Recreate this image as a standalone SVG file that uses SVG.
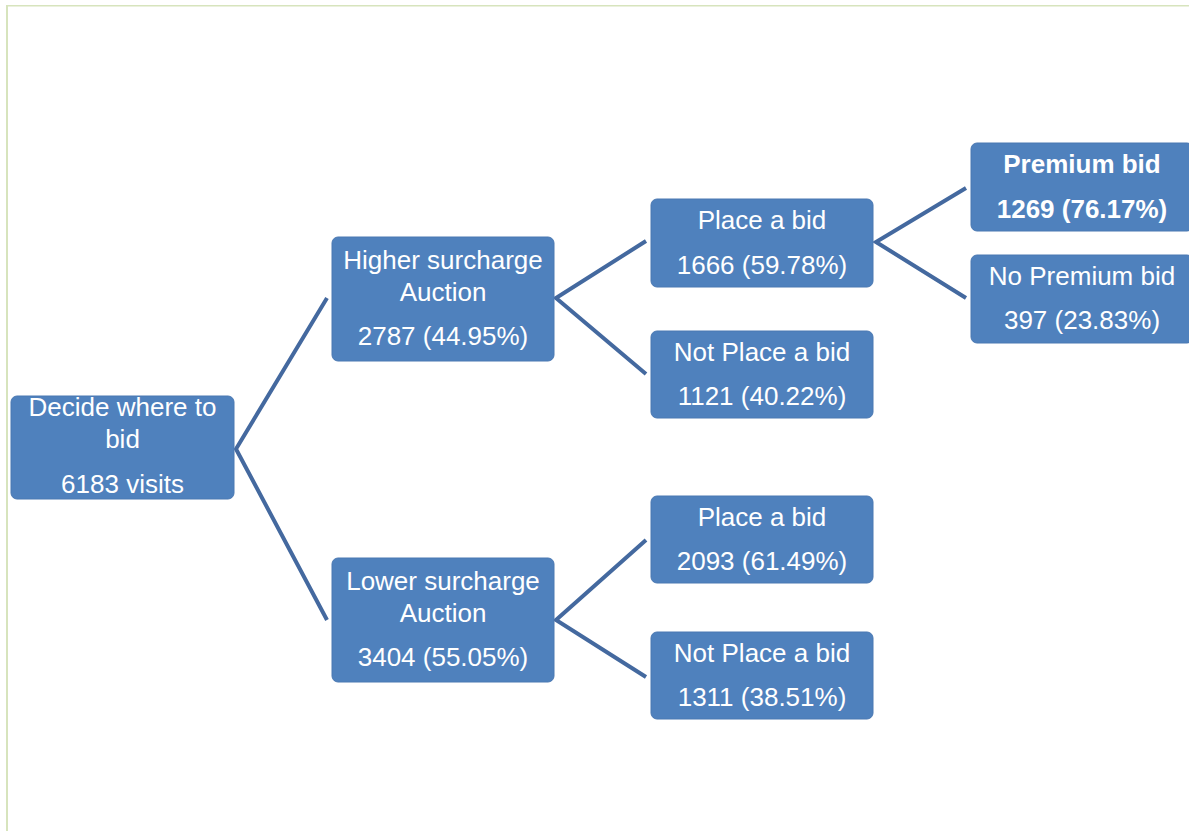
<svg xmlns="http://www.w3.org/2000/svg" width="1189" height="831" viewBox="0 0 1189 831">
<style>
.box{fill:#4f81bd;stroke:#4a78b2;stroke-width:1}
.t{font-family:"Liberation Sans",Arial,sans-serif;font-size:26px;fill:#ffffff;text-anchor:middle}
.b{font-weight:bold}
.c{stroke:#44699f;stroke-width:4;fill:none;stroke-linejoin:miter}
</style>
<rect width="1189" height="831" fill="#ffffff"/>
<rect x="6" y="5" width="1183" height="1.5" fill="#d7e4bd"/>
<rect x="6" y="5" width="2" height="826" fill="#d7e4bd"/>
<g id="connectors">
<polyline class="c" points="327,298 236,449 327,620"/>
<polyline class="c" points="646,241 556,298 646,374"/>
<polyline class="c" points="646,540 556,620 646,677"/>
<polyline class="c" points="966,188 876,242 966,298"/>
</g>
<g id="root">
<rect class="box" x="11" y="396" width="223" height="103" rx="6"/>
<text class="t" x="122.5" y="416">Decide where to</text>
<text class="t" x="122.5" y="448">bid</text>
<text class="t" x="122.5" y="493">6183 visits</text>
</g>
<g id="higher">
<rect class="box" x="332" y="237" width="222" height="124" rx="6"/>
<text class="t" x="443" y="269">Higher surcharge</text>
<text class="t" x="443" y="301">Auction</text>
<text class="t" x="443" y="345">2787 (44.95%)</text>
</g>
<g id="lower">
<rect class="box" x="332" y="558" width="222" height="124" rx="6"/>
<text class="t" x="443" y="590">Lower surcharge</text>
<text class="t" x="443" y="622">Auction</text>
<text class="t" x="443" y="666">3404 (55.05%)</text>
</g>
<g id="place1">
<rect class="box" x="651" y="199" width="222" height="88" rx="6"/>
<text class="t" x="762" y="229">Place a bid</text>
<text class="t" x="762" y="274">1666 (59.78%)</text>
</g>
<g id="notplace1">
<rect class="box" x="651" y="331" width="222" height="87" rx="6"/>
<text class="t" x="762" y="361">Not Place a bid</text>
<text class="t" x="762" y="405">1121 (40.22%)</text>
</g>
<g id="place2">
<rect class="box" x="651" y="496" width="222" height="87" rx="6"/>
<text class="t" x="762" y="526">Place a bid</text>
<text class="t" x="762" y="570">2093 (61.49%)</text>
</g>
<g id="notplace2">
<rect class="box" x="651" y="632" width="222" height="87" rx="6"/>
<text class="t" x="762" y="662">Not Place a bid</text>
<text class="t" x="762" y="706">1311 (38.51%)</text>
</g>
<g id="premium">
<rect class="box" x="971" y="143" width="222" height="88" rx="6"/>
<text class="t b" x="1082" y="173">Premium bid</text>
<text class="t b" x="1082" y="218">1269 (76.17%)</text>
</g>
<g id="nopremium">
<rect class="box" x="971" y="255" width="222" height="88" rx="6"/>
<text class="t" x="1082" y="285">No Premium bid</text>
<text class="t" x="1082" y="329">397 (23.83%)</text>
</g>
</svg>
